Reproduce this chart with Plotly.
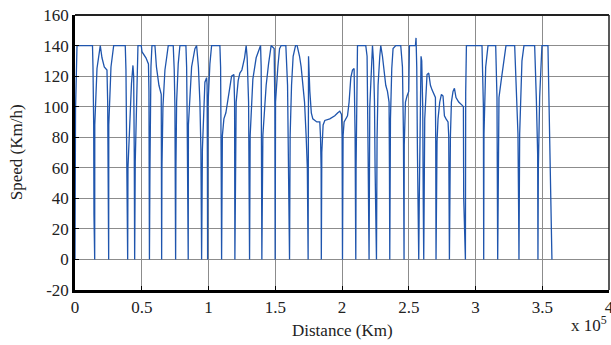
import plotly.graph_objects as go

# Distance (Km) and speed (Km/h)
distance = [
    0, 400, 1500, 13100, 13470, 14000, 14220, 14750,
    14820, 16470, 18940, 20210, 21930, 23950, 24480, 25220,
    25300, 26950, 28970, 37650, 38170, 38700, 39450,
    39670, 41170, 42290, 43410, 43940, 44390, 44690,
    45130, 46030, 47160, 49630, 50150, 53140, 55020, 55390, 55610, 55760,
    56140, 56890, 57640, 59880, 61000, 62870, 64600, 64750, 64900,
    65120, 65870, 67370, 68640, 69840, 73580, 74330, 74850, 75220, 75370,
    75600, 76120, 77320, 78590, 83080, 83610, 84060, 84580, 84810,
    84960, 87350, 89820, 91090, 92440, 93560, 94310, 94840,
    95430, 96780, 97310, 98580, 98950, 99180, 99330,
    99550, 101050, 102320, 108530, 109060, 109510, 109810,
    110400, 111530, 113020, 114300, 116020, 117290, 119010, 119540, 119760,
    120130, 120730, 122230, 123500, 125000, 127020, 128220, 128970, 130020, 130460, 130760,
    131210, 131960, 133230, 135700, 139000, 139450, 139750, 139970,
    140720, 141990, 143190, 144990, 146930, 149180, 149700, 149930,
    150220, 151950, 153220, 154420, 157930, 159210, 159960, 160700,
    161150, 162200, 163400, 165190, 166390, 168190, 169390, 171930, 173130, 174030, 174630,
    174930, 175900, 177020, 178140, 181140, 183380, 183910, 184360, 184510,
    184880, 185850, 187130, 190870, 194610, 196860, 198350, 199630, 200080, 200370,
    200820, 201570, 202840, 204120, 205310, 206590, 207860, 209060, 209810, 210330,
    210550, 211080, 211600, 217810, 218790, 219540, 220280,
    220810, 221930, 222830, 223580, 224330, 224780, 225820,
    226270, 227020, 228290, 229040, 230310, 231510, 232780, 234060, 235250, 235550, 235780,
    236300, 236750, 237280, 238250, 240270, 244010, 245280, 246030, 246480,
    246630, 247530, 248730, 250000, 250520, 255010, 255460, 255990, 256510, 256960, 257480,
    257860, 258610, 259210, 259730, 260480, 260850, 261230,
    261980, 262950, 263700, 264970, 266240, 267440, 269980, 270210, 270430,
    271180, 271930, 273200, 274480, 275670, 276720, 277920, 279420, 279940, 280460,
    281210, 281960, 283160, 284210, 285400, 287420, 289890, 290940, 291170, 291920, 292440,
    292660, 293190, 304860, 305390, 305910, 306140,
    306360, 307630, 309360, 315120, 315640, 316090, 316620,
    316990, 317590, 319380, 321330, 322830, 329340, 330610, 331810, 332330, 332560,
    333080, 333830, 334800, 336300, 344310, 345580, 346560, 346780,
    347080, 348050, 349330, 349770, 354270, 354790, 355540, 356510, 357260,
]
speed = [
    0, 98, 140, 140, 126, 88, 29, 0,
    88, 125, 140, 132, 126, 124, 103, 0,
    88, 126, 140, 140, 124, 86, 0,
    60, 100, 115, 127, 120, 70, 0,
    64, 103, 140, 140, 136, 132, 128, 110, 55, 0,
    60, 126, 140, 140, 126, 114, 108, 60, 0,
    60, 100, 124, 132, 140, 140, 124, 100, 60, 0,
    60, 103, 128, 140, 140, 126, 88, 40, 0,
    88, 126, 138, 140, 126, 103, 72, 0,
    72, 103, 116, 119, 114, 60, 0,
    100, 128, 140, 140, 126, 60, 0,
    81, 92, 96, 103, 114, 120, 121, 103, 0,
    60, 103, 117, 122, 124, 132, 140, 132, 103, 60, 0,
    81, 99, 118, 132, 140, 126, 70, 0,
    81, 103, 114, 128, 140, 138, 100, 0,
    103, 126, 138, 140, 140, 114, 60, 0,
    81, 114, 133, 140, 140, 133, 126, 103, 81, 60, 0,
    133, 110, 96, 92, 90, 90, 80, 60, 0,
    70, 88, 91, 92, 94, 96, 97, 95, 80, 0,
    81, 90, 92, 94, 103, 119, 124, 125, 81, 0,
    60, 126, 140, 140, 133, 70, 0,
    100, 126, 140, 130, 103, 60, 0,
    80, 114, 133, 140, 133, 123, 114, 110, 103, 60, 0,
    92, 114, 125, 138, 140, 140, 126, 81, 0,
    75, 103, 107, 110, 140, 140, 145, 126, 70, 37, 0,
    37, 114, 133, 130, 99, 40, 0,
    92, 114, 121, 122, 114, 111, 106, 77, 0,
    77, 92, 103, 108, 107, 94, 92, 90, 81, 0,
    81, 103, 110, 112, 106, 103, 101, 100, 40, 20, 0,
    109, 140, 140, 116, 100, 0,
    82, 126, 140, 140, 115, 106, 0,
    65, 106, 118, 132, 140, 140, 115, 82, 30, 0,
    82, 106, 130, 140, 140, 105, 69, 0,
    60, 106, 132, 140, 140, 120, 87, 35, 0,
]

x_tick_values = [0, 50000, 100000, 150000, 200000, 250000, 300000, 350000, 400000]
x_tick_labels = ["0", "0.5", "1", "1.5", "2", "2.5", "3", "3.5", "4"]
y_tick_values = [-20, 0, 20, 40, 60, 80, 100, 120, 140, 160]
y_tick_labels = ["-20", "0", "20", "40", "60", "80", "100", "120", "140", "160"]

FONT = "Liberation Serif"
TXT = "#222222"

fig = go.Figure()
fig.add_trace(go.Scatter(
    x=distance, y=speed, mode="lines",
    line=dict(color="#1f55ad", width=1.3),
    showlegend=False, hoverinfo="skip",
))

axis_common = dict(
    showgrid=True, gridcolor="#8c8c8c", gridwidth=1,
    zeroline=False, showline=True, linecolor="black", linewidth=2.5,
    mirror=False, ticks="inside", ticklen=4, tickcolor="black",
    tickfont=dict(family=FONT, size=17, color=TXT),
    automargin=False, ticklabeloverflow="allow",
)

fig.update_xaxes(
    range=[0, 400000], tickmode="array",
    tickvals=x_tick_values, ticktext=x_tick_labels,
    **axis_common,
)
fig.update_yaxes(
    range=[-20, 160], tickmode="array",
    tickvals=y_tick_values, ticktext=y_tick_labels,
    **axis_common,
)

# thin box on top and right (MATLAB-style frame)
fig.add_shape(type="line", xref="paper", yref="paper", x0=0, x1=1, y0=1, y1=1,
              line=dict(color="#222222", width=1.8))
fig.add_shape(type="line", xref="paper", yref="paper", x0=1, x1=1, y0=0, y1=1,
              line=dict(color="#222222", width=1.5))

# axis titles
fig.add_annotation(
    text="Distance (Km)", xref="paper", yref="paper",
    x=0.5, y=-0.148, xanchor="center", yanchor="middle", showarrow=False,
    font=dict(family=FONT, size=17, color=TXT),
)
fig.add_annotation(
    text="Speed (Km/h)", xref="paper", yref="paper", textangle=-90,
    x=-0.109, y=0.5, xanchor="center", yanchor="middle", showarrow=False,
    font=dict(family=FONT, size=17, color=TXT),
)
fig.add_annotation(
    text="x 10<sup>5</sup>", xref="paper", yref="paper",
    x=1.0, y=-0.125, xanchor="right", yanchor="middle", showarrow=False,
    font=dict(family=FONT, size=17, color=TXT),
)

fig.update_layout(
    width=611, height=345,
    margin=dict(l=75, r=2, t=15, b=55),
    paper_bgcolor="white", plot_bgcolor="white",
)

fig.write_html(
    "out.html",
    config={"responsive": False, "displayModeBar": False},
    post_script=(
        "document.body.style.margin='0';"
        "document.body.style.overflow='hidden';"
        "document.documentElement.style.overflow='hidden';"
    ),
)
